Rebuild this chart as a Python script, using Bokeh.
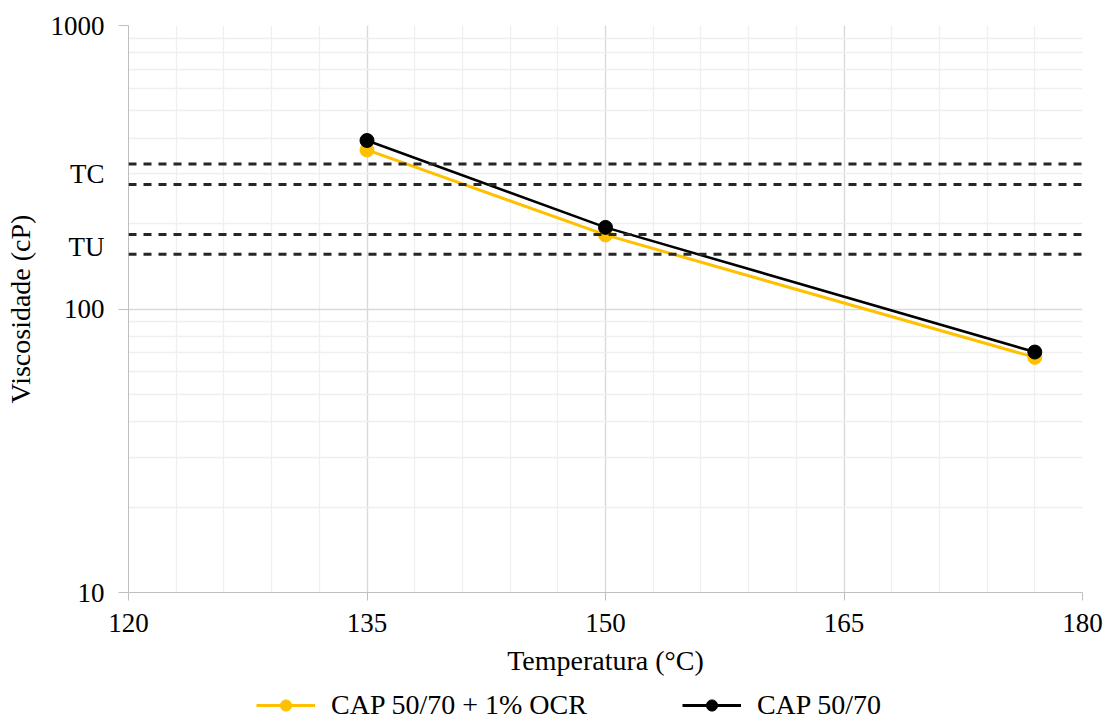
from bokeh.plotting import figure
from bokeh.layouts import column
from bokeh.models import (FixedTicker, PrintfTickFormatter, Span, Legend,
                          LegendItem, Range1d)
from bokeh.embed import file_html
from bokeh.resources import INLINE

# ---- data ----
temperatures = [135, 150, 177]
visc_cap_ocr = [364, 182.5, 67.5]     # CAP 50/70 + 1% OCR
visc_cap = [393, 194, 70.5]           # CAP 50/70

tc_band = [275, 325]   # compaction range (cP)
tu_band = [156, 183]   # mixing range (cP)

x_ticks = [120, 135, 150, 165, 180]
x_minor = list(range(120, 181, 3))
y_ticks = [10, 100, 1000]
y_minor = [d * m for d in (10, 100) for m in range(2, 10)]

label_cap_ocr = "CAP 50/70 + 1% OCR"
label_cap = "CAP 50/70"

FONT = "Liberation Serif"
YELLOW = "#FFC000"

tc_mid = int(round((tc_band[0] * tc_band[1]) ** 0.5))
tu_mid = int(round((tu_band[0] * tu_band[1]) ** 0.5)) - 3

p = figure(width=1110, height=690, y_axis_type="log",
           x_range=Range1d(120, 180), y_range=Range1d(10, 1000),
           output_backend="svg", toolbar_location=None,
           min_border_left=128, min_border_right=28,
           min_border_top=25, min_border_bottom=98)
p.outline_line_color = None
p.background_fill_color = "white"
p.border_fill_color = "white"

# axes
p.xaxis.ticker = FixedTicker(ticks=x_ticks, minor_ticks=x_minor)
# y axis: labelled ticks incl. TC/TU, tick marks only at the decades (drawn as minor ticks)
p.yaxis.ticker = FixedTicker(ticks=y_ticks + [tc_mid, tu_mid], minor_ticks=y_ticks)
p.yaxis.formatter = PrintfTickFormatter(format="%d")
p.yaxis.major_label_overrides = {tc_mid: "TC", tu_mid: "TU"}
p.xgrid.ticker = FixedTicker(ticks=x_ticks, minor_ticks=x_minor)
p.ygrid.ticker = FixedTicker(ticks=y_ticks, minor_ticks=y_minor)

for ax in (p.xaxis[0], p.yaxis[0]):
    ax.axis_line_color = "#bfbfbf"
    ax.major_tick_line_color = "#bfbfbf"
    ax.minor_tick_line_color = None
    ax.major_tick_in = 0
    ax.minor_tick_in = 0
    ax.major_label_text_font = FONT
    ax.major_label_text_font_size = "27px"
    ax.major_label_text_color = "#000000"
    ax.axis_label_text_font = FONT
    ax.axis_label_text_font_style = "normal"
    ax.axis_label_text_font_size = "28px"
    ax.axis_label_text_color = "#000000"
p.xaxis.major_tick_out = 8
p.yaxis.major_tick_out = 0
p.yaxis.major_tick_line_color = None
p.yaxis.minor_tick_line_color = "#bfbfbf"
p.yaxis.minor_tick_out = 10
p.xaxis.major_label_standoff = 13
p.yaxis.major_label_standoff = 14
p.xaxis.axis_label = "Temperatura (°C)"
p.yaxis.axis_label = "Viscosidade (cP)"
p.xaxis.axis_label_standoff = 10
p.yaxis.axis_label_standoff = 12

# grids
for g in (p.xgrid[0], p.ygrid[0]):
    g.grid_line_color = "#d9d9d9"
    g.grid_line_width = 1.3
    g.minor_grid_line_color = "#efefef"
    g.minor_grid_line_width = 1.3

# data
p.line(temperatures, visc_cap_ocr, line_color=YELLOW, line_width=3)
p.scatter(temperatures, visc_cap_ocr, size=14, fill_color=YELLOW, line_color=YELLOW)
p.line(temperatures, visc_cap, line_color="#000000", line_width=2.5)
p.scatter(temperatures, visc_cap, size=14, fill_color="#000000", line_color="#000000")

# limit lines
for v in tc_band + tu_band:
    p.add_layout(Span(location=v, dimension="width", line_color="#262626",
                      line_width=3, line_dash="8 7"))

# ---- legend strip below the chart ----
lg = figure(width=1110, height=30, x_range=Range1d(0, 1), y_range=Range1d(0, 1),
            output_backend="svg", toolbar_location=None,
            x_axis_location=None, y_axis_location=None,
            min_border_left=0, min_border_right=0, min_border_top=0,
            min_border_bottom=0)
lg.outline_line_color = None
lg.grid.visible = False
# same series drawn outside the strip's ranges: only their legend glyphs show
l1 = lg.line(temperatures, visc_cap_ocr, line_color=YELLOW, line_width=3)
m1 = lg.scatter(temperatures, visc_cap_ocr, size=11, fill_color=YELLOW, line_color=YELLOW)
l2 = lg.line(temperatures, visc_cap, line_color="#000000", line_width=3)
m2 = lg.scatter(temperatures, visc_cap, size=11, fill_color="#000000", line_color="#000000")

legend = Legend(items=[LegendItem(label=label_cap_ocr, renderers=[l1, m1]),
                       LegendItem(label=label_cap, renderers=[l2, m2])],
                orientation="horizontal", location=(128, -1),
                glyph_width=59, glyph_height=28, label_standoff=16, spacing=95,
                padding=0, margin=0, border_line_color=None,
                background_fill_alpha=0,
                label_text_font=FONT, label_text_font_size="28px",
                label_text_color="#000000", label_height=28)
lg.add_layout(legend)

layout = column(p, lg, spacing=0)
open("out.html", "w").write(file_html(layout, INLINE))
